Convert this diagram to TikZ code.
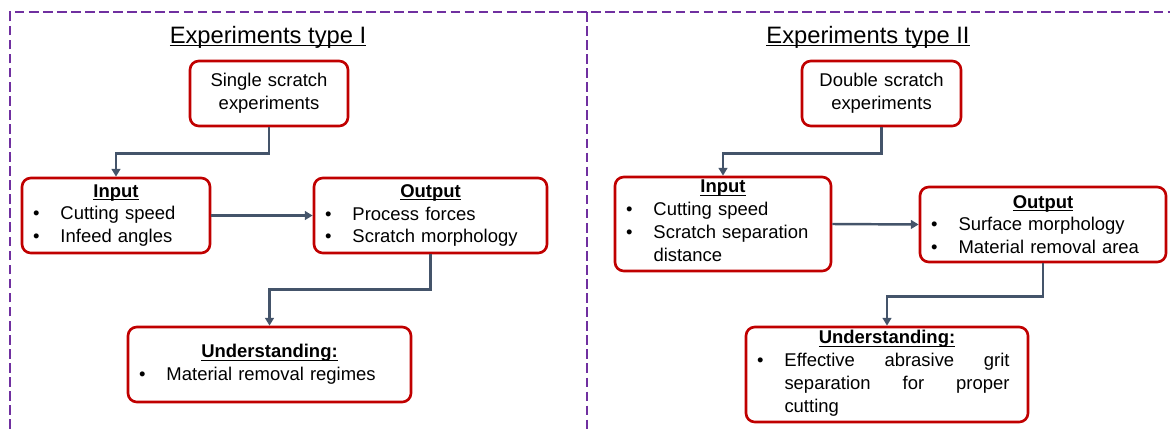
\documentclass[tikz,border=0pt]{standalone}
\usepackage{fontspec}
\setmainfont{Liberation Sans}
\usetikzlibrary{arrows.meta}

\definecolor{boxred}{HTML}{C00000}
\definecolor{framepurple}{HTML}{7030A0}
\definecolor{flowgray}{HTML}{44546A}

% underline at a fixed depth, centred bold heading and bullet item
\newcommand{\ultext}[1]{\setbox0\hbox{#1}\rlap{\rule[-1.8pt]{\wd0}{0.6pt}}\box0}
\newcommand{\boxhead}[1]{\makebox[\hsize]{\ultext{\textbf{#1}}}\par}
\newcommand{\bitem}{\par\noindent\makebox[0.55cm][l]{\textbullet}}
% item running over several lines
\newcommand{\blines}[1]{\begin{tabular}[t]{@{}l@{}}#1\end{tabular}}

\begin{document}
\begin{tikzpicture}[
    box_style/.style={draw=boxred, line width=1.5pt, rounded corners=5pt, inner xsep=0.22cm, inner ysep=0pt, font=\fontsize{10.5}{13}\selectfont, align=left},
    start_style/.style={box_style, align=center},
    title_style/.style={font=\fontsize{13.5}{16}\selectfont, anchor=base},
    flow_style/.style={draw=flowgray, line width=1.4pt, -{Triangle[length=4.5pt, width=5pt]}},
    frame_style/.style={draw=framepurple, line width=1.7pt, dash pattern=on 5.5pt off 2.5pt}
]
\useasboundingbox (0,0) rectangle (23.4,8.56);
\clip (0,0) rectangle (23.4,8.56);

% Dashed frame with divider
\draw[frame_style] (0.2,-0.3) -- (0.2,8.32) -- (23.8,8.32);
\draw[frame_style] (11.74,8.32) -- (11.74,-0.3);

% Left panel - type I
\node[title_style] (title1) at (5.36,7.7) {\ultext{Experiments type I}};
\node[start_style, text width=2.72cm, minimum height=1.3cm] (single1) at (5.38,6.69) {Single scratch\\experiments};
\node[box_style, text width=3.32cm, minimum height=1.5cm] (in1) at (2.32,4.25) {%
    \boxhead{Input}
    \bitem Cutting speed
    \bitem Infeed angles};
\node[box_style, text width=4.22cm, minimum height=1.5cm] (out1) at (8.61,4.25) {%
    \boxhead{Output}
    \bitem Process forces
    \bitem Scratch morphology};
\node[box_style, text width=5.22cm, minimum height=1.5cm] (und1) at (5.39,1.27) {%
    \boxhead{Understanding:}
    \bitem Material removal regimes};

\draw[flow_style] (single1.south) -- ++(0,-0.52) -| (in1.north);
\draw[flow_style] (in1.east) -- (out1.west);
\draw[flow_style] (out1.south) -- ++(0,-0.7) -| (und1.north);

% Right panel - type II
\node[title_style] (title2) at (17.36,7.7) {\ultext{Experiments type II}};
\node[start_style, text width=2.74cm, minimum height=1.3cm] (double2) at (17.63,6.69) {Double scratch\\experiments};
\node[box_style, text width=3.88cm, minimum height=1.88cm] (in2) at (14.46,4.08) {%
    \boxhead{Input}
    \bitem Cutting speed
    \bitem\blines{Scratch separation\\distance}};
\node[box_style, text width=4.48cm, minimum height=1.5cm] (out2) at (20.86,4.07) {%
    \boxhead{Output}
    \bitem Surface morphology
    \bitem Material removal area};
\node[box_style, text width=5.2cm, minimum height=1.9cm] (und2) at (17.74,1.07) {%
    \boxhead{Understanding:}
    \bitem\blines{\hbox to 4.5cm{Effective\hfill abrasive\hfill grit}\\
        \hbox to 4.5cm{separation\hfill for\hfill proper}\\
        cutting}};

\draw[flow_style] (double2.south) -- ++(0,-0.52) -| (in2.north);
\draw[flow_style] (in2.east) -- (out2.west);
\draw[flow_style] (out2.south) -- ++(0,-0.66) -| (und2.north);

\end{tikzpicture}
\end{document}
